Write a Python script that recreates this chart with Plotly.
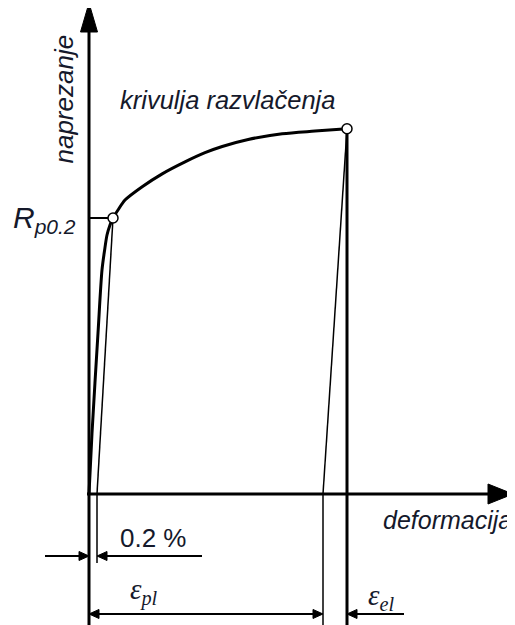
import plotly.graph_objects as go

# stress-strain curve, strain in %, stress in MPa (schematic)
strain_curve = [0, 0.075, 0.225, 0.325, 0.39, 0.45, 0.525, 0.6, 0.725, 0.9, 1.33,
                1.83, 2.4, 2.9, 3.33, 3.98, 4.83, 5.65, 6.45]
stress_curve = [0, 66, 175, 243.5, 265, 281.5, 292.5, 300, 308.7, 319.5, 334,
                348, 361, 371, 377.7, 385.3, 391.6, 394.5, 397]

offset_strain = 0.2      # 0.2 % offset
rp02_strain = 0.6
rp02_stress = 300
fracture_strain = 6.45
fracture_stress = 397
plastic_strain = 5.85    # after unloading

# axis / dimension extents
x_axis_end = 10.6
y_axis_end = 533.7
bottom = -142.4
dim_02_y = -67.4
dim_02_left = -1.1
dim_02_right = 2.825
dim_02_ext = -75
dim_eps_y = -130.4
dim_el_right = 7.875

# pixel scales (px per unit) used for arrowheads
PX_X = 40.0
PX_Y = 0.92
# page body has an 8 px margin
PAGE_OFF = 8
INK = '#15192b'

fig = go.Figure()


def line(xs, ys, w, color='black'):
    fig.add_trace(go.Scatter(x=xs, y=ys, mode='lines',
                             line=dict(color=color, width=w),
                             hoverinfo='skip', showlegend=False))


def head(tx, ty, dx, dy, length, width):
    # filled arrowhead with tip at (tx, ty), direction (dx, dy) in pixel space
    bx = tx - dx * length / PX_X
    by = ty - dy * length / PX_Y
    px, py = -dy, dx
    xs = [tx, bx + px * width / 2 / PX_X, bx - px * width / 2 / PX_X, tx]
    ys = [ty, by + py * width / 2 / PX_Y, by - py * width / 2 / PX_Y, ty]
    fig.add_trace(go.Scatter(x=xs, y=ys, mode='lines', fill='toself',
                             fillcolor='black', line=dict(color='black', width=1),
                             hoverinfo='skip', showlegend=False))


# axes
line([0, 0], [bottom, y_axis_end - 28 / PX_Y], 3)
head(0, y_axis_end, 0, 1, 29, 17)
line([-2 / PX_X, x_axis_end - 24 / PX_X], [0, 0], 3)
head(x_axis_end, 0, 1, 0, 25, 20)

# offset line and unloading line
line([offset_strain, rp02_strain], [0, rp02_stress], 1.5)
line([plastic_strain, fracture_strain], [0, fracture_stress], 1.5)

# Rp0.2 level
line([0, rp02_strain], [rp02_stress, rp02_stress], 2)

# extension lines
line([offset_strain, offset_strain], [0, dim_02_ext], 1.5)
line([plastic_strain, plastic_strain], [0, bottom], 1.5)
line([fracture_strain, fracture_strain], [fracture_stress, bottom], 3)

# tensile curve
fig.add_trace(go.Scatter(x=strain_curve, y=stress_curve, mode='lines',
                         line=dict(color='black', width=3, shape='spline', smoothing=0.8),
                         hoverinfo='skip', showlegend=False))

# open circles
fig.add_trace(go.Scatter(x=[rp02_strain, fracture_strain], y=[rp02_stress, fracture_stress],
                         mode='markers',
                         marker=dict(size=10, color='white', line=dict(color='black', width=1.5)),
                         hoverinfo='skip', showlegend=False))

# dimension: 0.2 %
line([dim_02_left, -9 / PX_X], [dim_02_y, dim_02_y], 2)
head(0, dim_02_y, 1, 0, 10, 9)
line([offset_strain + 9 / PX_X, dim_02_right], [dim_02_y, dim_02_y], 2)
head(offset_strain, dim_02_y, -1, 0, 10, 9)

# dimension: eps_pl
line([9 / PX_X, plastic_strain - 9 / PX_X], [dim_eps_y, dim_eps_y], 2)
head(0, dim_eps_y, -1, 0, 10, 9)
head(plastic_strain, dim_eps_y, 1, 0, 10, 9)

# dimension: eps_el
line([fracture_strain + 9 / PX_X, dim_el_right], [dim_eps_y, dim_eps_y], 2)
head(fracture_strain, dim_eps_y, -1, 0, 10, 9)

sans = 'Liberation Sans, Arial, sans-serif'
serif = 'Liberation Serif, Times New Roman, serif'
labels = [
    dict(x=3.45, y=428, text='<i>krivulja razvlačenja</i>', size=25.5, family=sans, angle=0, xa='center'),
    dict(x=-0.62, y=429, text='<i>naprezanje</i>', size=26, family=sans, angle=-90, xa='center'),
    dict(x=8.95, y=-28, text='<i>deformacija</i>', size=25, family=sans, angle=0, xa='center'),
    dict(x=-1.95, y=298, text='<i>R<sub>p0.2</sub></i>', size=30, family=sans, angle=0, xa='left'),
    dict(x=1.6, y=-48, text='0.2 %', size=26, family=sans, angle=0, xa='center'),
    dict(x=1.37, y=-106, text='<i>ε<sub>pl</sub></i>', size=29, family=serif, angle=0, xa='center'),
    dict(x=7.3, y=-112, text='<i>ε<sub>el</sub></i>', size=29, family=serif, angle=0, xa='center'),
]
for lb in labels:
    fig.add_annotation(x=lb['x'], y=lb['y'], text=lb['text'], showarrow=False,
                       textangle=lb['angle'], xanchor=lb['xa'], yanchor='middle',
                       font=dict(family=lb['family'], size=lb['size'], color=INK))

fig.update_layout(
    width=515 - PAGE_OFF, height=625 - PAGE_OFF,
    margin=dict(l=0, r=0, t=0, b=0),
    paper_bgcolor='white', plot_bgcolor='white',
    showlegend=False,
    xaxis=dict(range=[(PAGE_OFF - 89) / PX_X, 426 / PX_X], visible=False, fixedrange=True),
    yaxis=dict(range=[-131 / PX_Y, (494 - PAGE_OFF) / PX_Y], visible=False, fixedrange=True),
)

fig.write_html('out.html')
